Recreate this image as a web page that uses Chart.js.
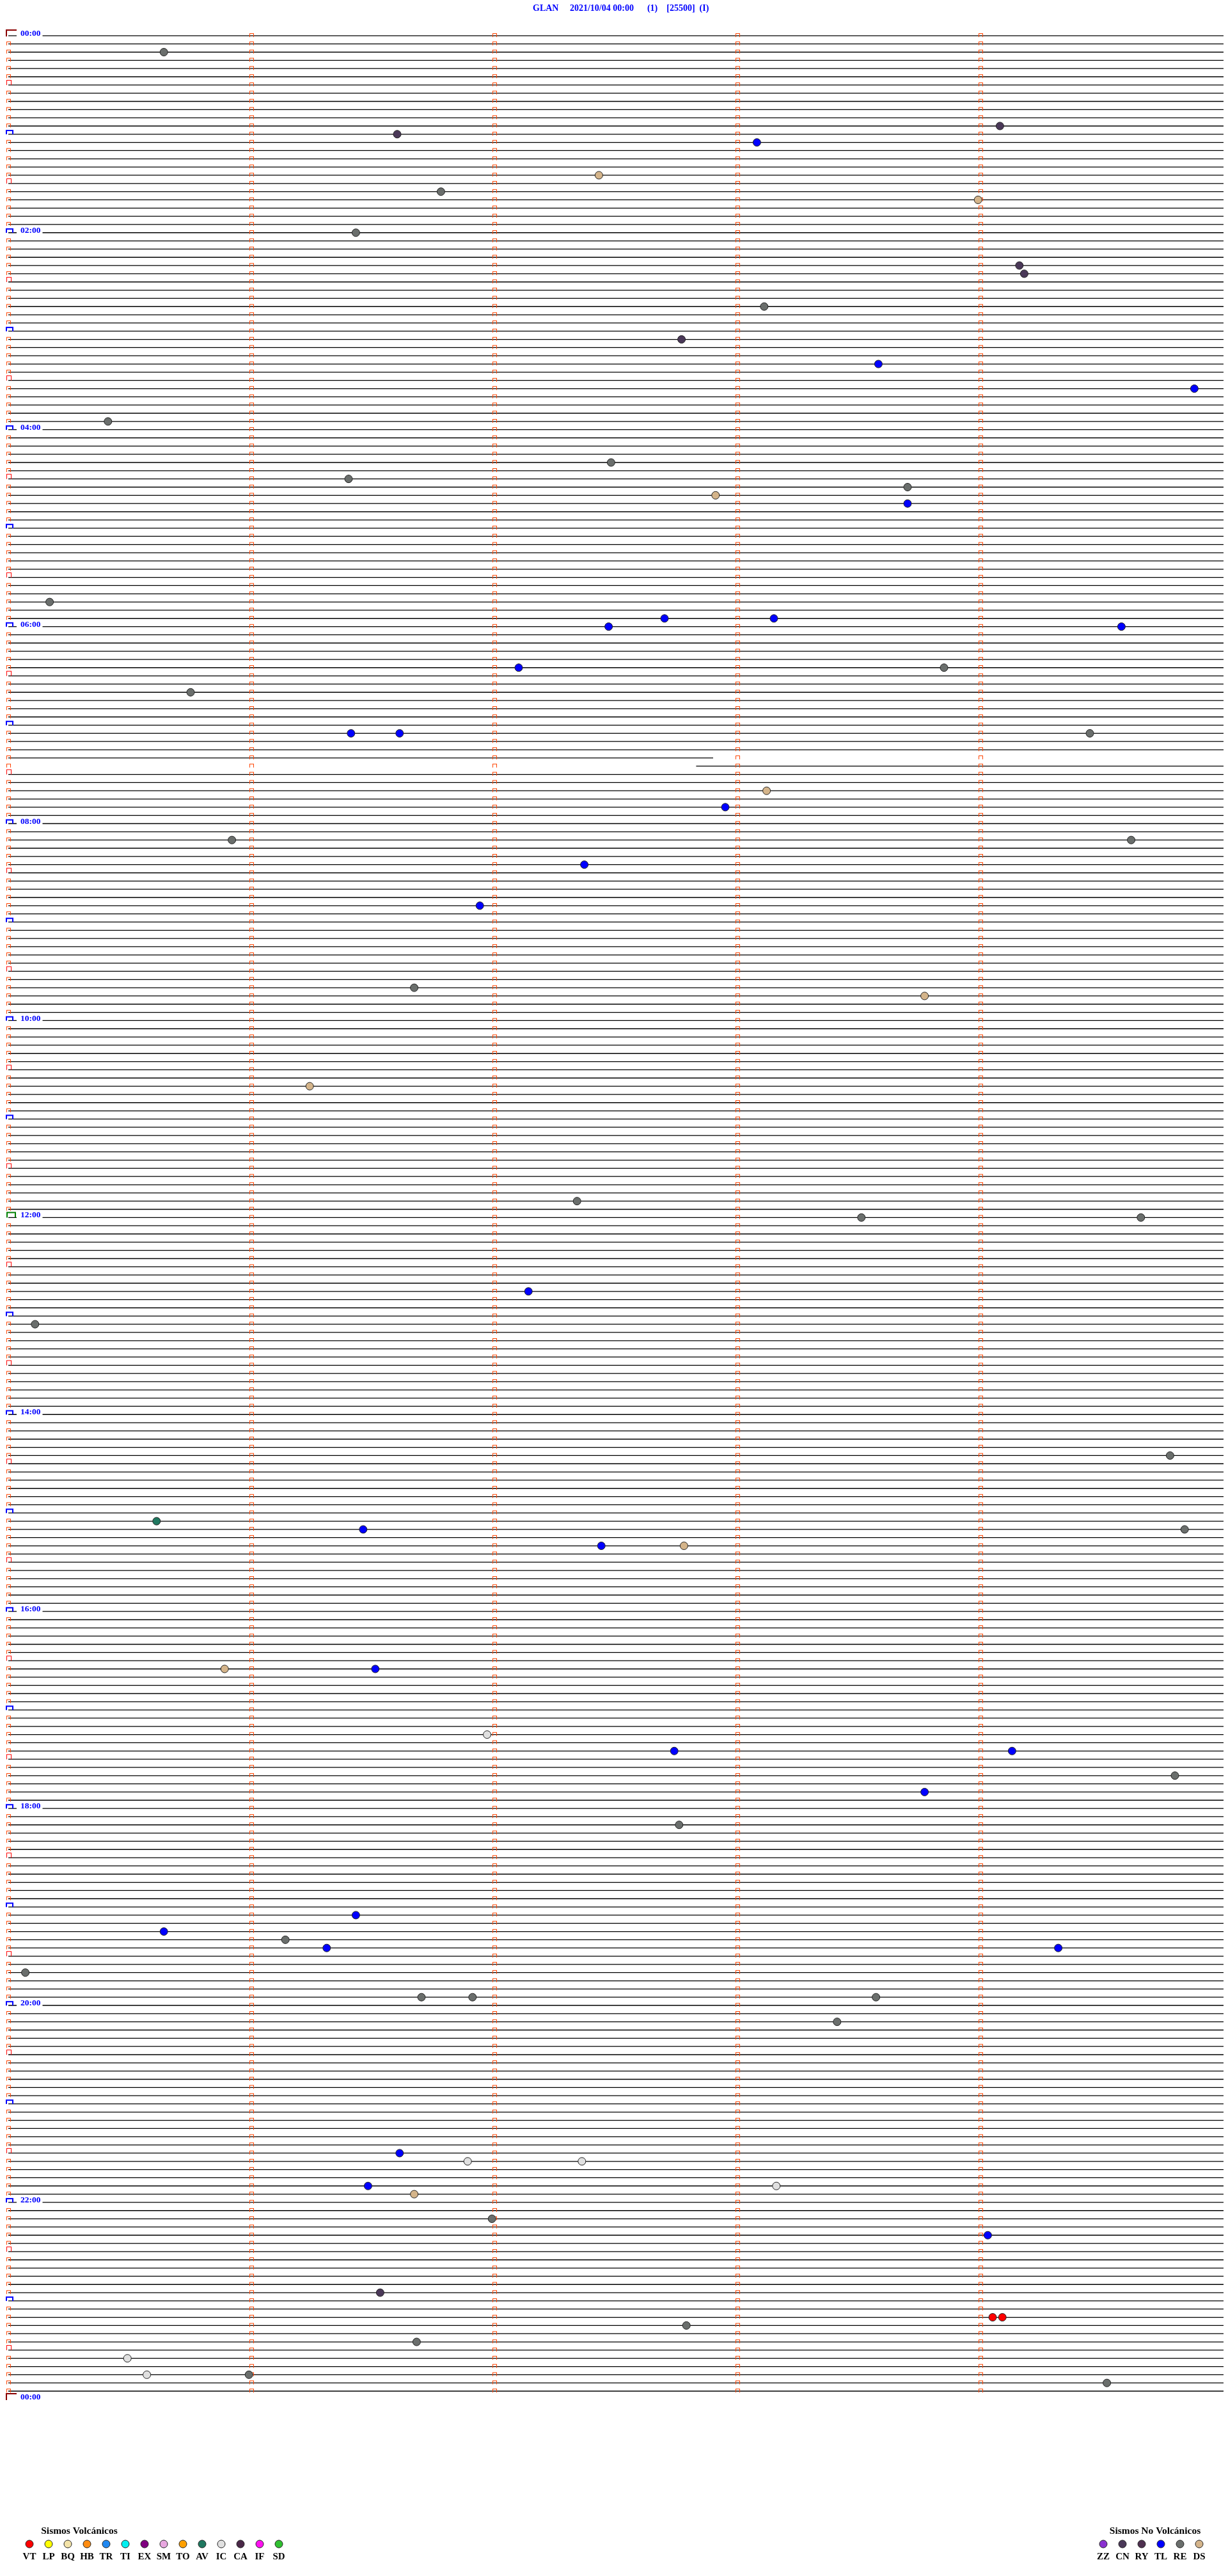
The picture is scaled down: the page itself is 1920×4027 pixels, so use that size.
<!DOCTYPE html>
<html>
<head>
<meta charset="utf-8">
<script src="https://cdn.jsdelivr.net/npm/chart.js@4.4.1/dist/chart.umd.min.js"></script>
<style>
  html, body { margin: 0; padding: 0; background: #fff; }
  canvas { display: block; }
</style>
</head>
<body>
<canvas id="helicorder" width="1920" height="4027"></canvas>
<script>
// GLAN helicorder, 2021/10/04, one trace per 5 minutes
const titleText = 'GLAN     2021/10/04 00:00      (1)    [25500]  (I)';
const rowMinutes = 5;
const dayMinutes = 1440;
const minuteLines = [0, 1, 2, 3, 4];
const hourLabels = ['00:00', '02:00', '04:00', '06:00', '08:00', '10:00', '12:00',
    '14:00', '16:00', '18:00', '20:00', '22:00', '00:00'];
const hourLabelMinutes = [0, 120, 240, 360, 480, 600, 720, 840, 960, 1080, 1200, 1320, 1440];

// data gap (minutes of day)
const gapStart = 442.9;
const gapEnd = 447.83;

// events: minute of day and class
const eventMinutes = [
    10.64, 61.60, 59.08, 68.08, 87.43, 96.78, 103.99, 121.43, 144.16, 149.18,
    168.11, 187.77, 203.58, 219.88, 235.41, 262.48, 271.40, 278.70, 282.91, 288.70,
    345.17, 357.70, 358.15, 362.47, 364.58, 387.10, 388.85, 400.75, 426.41, 426.61,
    429.45, 463.12, 472.95, 490.92, 494.62, 507.37, 531.94, 581.67, 588.77, 641.24,
    712.34, 723.51, 724.66, 767.14, 785.11, 869.78, 905.61, 911.46, 914.84, 922.44,
    922.78, 995.89, 996.51, 1036.97, 1047.74, 1049.13, 1064.80, 1073.77, 1092.76, 1146.43,
    1155.64, 1161.14, 1166.31, 1169.32, 1180.07, 1198.57, 1196.70, 1196.91, 1213.41, 1291.61,
    1296.89, 1297.36, 1311.48, 1316.67, 1313.16, 1331.99, 1344.03, 1376.53, 1394.05, 1394.09,
    1397.79, 1406.68, 1415.49, 1425.57, 1425.99, 1434.52
];
const eventTypes = [
    'RE', 'CN', 'CN', 'TL', 'DS', 'RE', 'DS', 'RE', 'CN', 'CN',
    'RE', 'CN', 'TL', 'TL', 'RE', 'RE', 'RE', 'RE', 'DS', 'TL',
    'RE', 'TL', 'TL', 'TL', 'TL', 'TL', 'RE', 'RE', 'TL', 'TL',
    'RE', 'DS', 'TL', 'RE', 'RE', 'TL', 'TL', 'RE', 'DS', 'DS',
    'RE', 'RE', 'RE', 'TL', 'RE', 'RE', 'AV', 'TL', 'RE', 'TL',
    'DS', 'DS', 'TL', 'IC', 'TL', 'TL', 'RE', 'TL', 'RE', 'TL',
    'TL', 'RE', 'TL', 'TL', 'RE', 'RE', 'RE', 'RE', 'RE', 'TL',
    'IC', 'IC', 'TL', 'DS', 'IC', 'RE', 'TL', 'CN', 'VT', 'VT',
    'RE', 'RE', 'IC', 'IC', 'RE', 'RE'
];

const volcanicTypes = ['VT', 'LP', 'BQ', 'HB', 'TR', 'TI', 'EX', 'SM', 'TO', 'AV', 'IC', 'CA', 'IF', 'SD'];
const volcanicColors = ['#ff0000', '#ffff00', '#f3e3a8', '#ff8c10', '#2088f0', '#00f0f0', '#800080',
    '#e8a8e0', '#ffa000', '#207860', '#e0e0e0', '#4a2848', '#ff10f0', '#30c030'];
const otherTypes = ['ZZ', 'CN', 'RY', 'TL', 'RE', 'DS'];
const otherColors = ['#8a30d0', '#4a3858', '#4e3050', '#0000ff', '#6a6e6c', '#d4b48a'];

const traceShift = 1.5;
const rowCount = dayMinutes / rowMinutes;

function typeColor(t) {
    let i = volcanicTypes.indexOf(t);
    if (i >= 0) return volcanicColors[i];
    i = otherTypes.indexOf(t);
    return i >= 0 ? otherColors[i] : '#808080';
}

function makeMark(color, x0, x1, y0, y1, lw) {
    const halfW = Math.max(Math.abs(x0), Math.abs(x1)) + 1;
    const halfH = Math.max(Math.abs(y0), Math.abs(y1)) + 1;
    const c = document.createElement('canvas');
    c.width = halfW * 2;
    c.height = halfH * 2;
    const g = c.getContext('2d');
    g.fillStyle = color;
    const L = halfW + x0, R = halfW + x1, T = halfH + y0, B = halfH + y1;
    g.fillRect(L, T, R - L, lw);
    g.fillRect(L, T, lw, B - T);
    g.fillRect(R - lw, T, lw, B - T);
    return c;
}

const tickMark = makeMark('#ff4500', -3, 4, 0, 6, 1);
const midnightMark = makeMark('#8b0000', -4, 17, -6, 5, 2);
const noonMark = makeMark('#008000', -3, 12, -5, 4, 2);
const hourMark = makeMark('#0000ff', -4, 8, -3, 4, 2);
const halfHourMark = makeMark('#ff0000', -3, 5, -4, 4, 1);

// traces, split at the data gap
const traceData = [];
for (let r = 0; r < rowCount; r++) {
    const t0 = r * rowMinutes;
    const t1 = t0 + rowMinutes;
    const y = t0 + traceShift;
    const pieces = [];
    if (gapEnd <= t0 || gapStart >= t1) {
        pieces.push([0, rowMinutes]);
    } else {
        if (gapStart > t0) pieces.push([0, gapStart - t0]);
        if (gapEnd < t1) pieces.push([gapEnd - t0, rowMinutes]);
    }
    pieces.forEach(([a, b]) => {
        traceData.push({ x: a, y }, { x: b, y }, { x: b, y: null });
    });
}

const tickData = [];
const midnightData = [];
const noonData = [];
const hourData = [];
const halfHourData = [];
for (let r = 0; r <= rowCount; r++) {
    const t = r * rowMinutes;
    minuteLines.forEach(m => {
        if (m === 0) {
            if (t % 1440 === 0) { midnightData.push({ x: 0, y: t }); return; }
            if (t === 720) { noonData.push({ x: 0, y: t }); return; }
            if (t % 60 === 0) { hourData.push({ x: 0, y: t }); return; }
            if (t % 30 === 0) { halfHourData.push({ x: 0, y: t }); return; }
        }
        if (r < rowCount) tickData.push({ x: m, y: t });
    });
}

const eventData = eventMinutes.map(t => {
    const row = Math.floor(t / rowMinutes);
    return { x: t - row * rowMinutes, y: row * rowMinutes + traceShift };
});
const eventColors = eventTypes.map(typeColor);

const textPlugin = {
    id: 'helicorderText',
    afterDatasetsDraw(chart) {
        const ctx = chart.ctx;
        const yScale = chart.scales.y;
        ctx.save();
        ctx.font = 'bold 13.5px "Liberation Serif", serif';
        ctx.textBaseline = 'middle';
        ctx.textAlign = 'left';
        hourLabels.forEach((lab, i) => {
            const y = yScale.getPixelForValue(hourLabelMinutes[i]);
            const w = ctx.measureText(lab).width;
            ctx.fillStyle = '#fff';
            ctx.fillRect(26, y - 6, w + 9, 12);
            ctx.fillStyle = '#0000ff';
            ctx.fillText(lab, 32, y + 0.5);
        });

        // header
        ctx.font = 'bold 14px "Liberation Serif", serif';
        ctx.fillStyle = '#0000ff';
        ctx.fillText(titleText, 833, 13);

        // legends
        const drawGroup = (title, titleX, types, colors, x0) => {
            ctx.fillStyle = '#000';
            ctx.textAlign = 'center';
            ctx.font = 'bold 15.5px "Liberation Serif", serif';
            ctx.fillText(title, titleX, 3957);
            ctx.font = 'bold 15px "Liberation Serif", serif';
            types.forEach((t, i) => {
                const cx = x0 + i * 30;
                ctx.beginPath();
                ctx.arc(cx, 3977, 6, 0, Math.PI * 2);
                ctx.fillStyle = colors[i];
                ctx.fill();
                ctx.lineWidth = 1;
                ctx.strokeStyle = '#222';
                ctx.stroke();
                ctx.fillStyle = '#000';
                ctx.fillText(t, cx, 3997);
            });
        };
        drawGroup('Sismos Volcánicos', 124, volcanicTypes, volcanicColors, 46);
        drawGroup('Sismos No Volcánicos', 1806, otherTypes, otherColors, 1725);
        ctx.restore();
    }
};

new Chart(document.getElementById('helicorder'), {
    type: 'scatter',
    data: {
        datasets: [
            {
                label: 'events',
                data: eventData,
                pointStyle: 'circle',
                pointRadius: 6,
                pointBackgroundColor: eventColors,
                pointBorderColor: '#222',
                pointBorderWidth: 1,
                clip: false,
                order: 0,
            },
            { label: 'midnight', data: midnightData, pointStyle: midnightMark, clip: false, order: 1 },
            { label: 'noon', data: noonData, pointStyle: noonMark, clip: false, order: 1 },
            { label: 'hour', data: hourData, pointStyle: hourMark, clip: false, order: 1 },
            { label: 'half', data: halfHourData, pointStyle: halfHourMark, clip: false, order: 1 },
            { label: 'minutes', data: tickData, pointStyle: tickMark, clip: false, order: 2 },
            {
                label: 'traces',
                data: traceData,
                showLine: true,
                spanGaps: false,
                borderColor: '#000',
                borderWidth: 1.3,
                pointRadius: 0,
                tension: 0,
                clip: false,
                order: 3,
            },
        ],
    },
    options: {
        responsive: false,
        animation: false,
        events: [],
        layout: { padding: { left: 13, right: 7, top: 52, bottom: 280 } },
        plugins: {
            legend: { display: false },
            title: { display: false },
            tooltip: { enabled: false },
        },
        scales: {
            x: { type: 'linear', min: 0, max: rowMinutes, display: false },
            y: { type: 'linear', min: 0, max: dayMinutes, reverse: true, display: false },
        },
    },
    plugins: [textPlugin],
});
</script>
</body>
</html>
